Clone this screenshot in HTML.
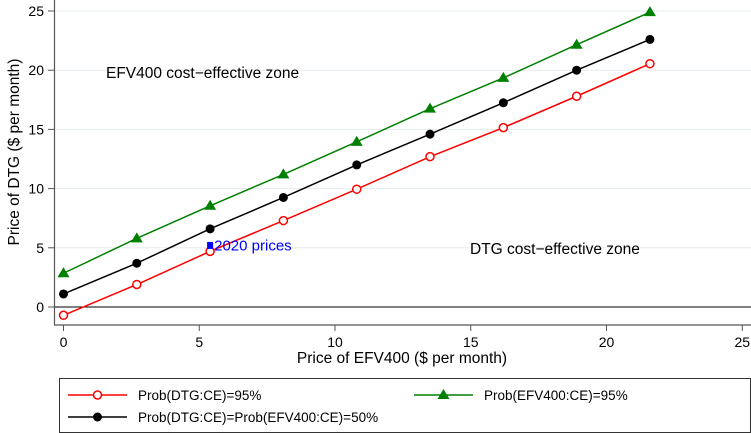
<!DOCTYPE html>
<html><head><meta charset="utf-8"><style>
body{margin:0;background:#fff}
svg{display:block;font-family:"Liberation Sans",Arial,sans-serif}
</style></head><body>
<svg id="c" width="751" height="433"></svg>
<script>
const xs=[0,2.7,5.4,8.1,10.8,13.5,16.2,18.9,21.6];
const redVals=[-0.7,1.9,4.7,7.3,9.95,12.7,15.15,17.8,20.55];
const blackVals=[1.1,3.7,6.6,9.25,12.0,14.6,17.25,20.0,22.6];
const greenVals=[2.85,5.8,8.55,11.2,13.95,16.75,19.35,22.15,24.9];
const xTicks=[0,5,10,15,20,25];
const yTicks=[0,5,10,15,20,25];
const price2020=[5.4,5.2];
const NS="http://www.w3.org/2000/svg";
const svg=document.getElementById('c');
const X=v=>63.5+v*27.15, Y=v=>307-v*11.84;
function el(t,a,p){const e=document.createElementNS(NS,t);for(const k in a)e.setAttribute(k,a[k]);(p||svg).appendChild(e);return e;}
function txt(s,a){const e=el('text',a);e.textContent=s;return e;}
// grid
yTicks.forEach(v=>{if(v>0){const g=el('line',{x1:55,x2:751,y1:Y(v),y2:Y(v),stroke:'#e3ecef','stroke-width':1});

}});
const z=el('line',{x1:55,x2:751,y1:Y(0),y2:Y(0),stroke:'#000','stroke-width':1});


// axes
const ya=el('line',{x1:54.5,x2:54.5,y1:0,y2:325,stroke:'#555','stroke-width':1.2});


const xa=el('line',{x1:54,x2:751,y1:325,y2:325,stroke:'#555','stroke-width':1.2});


yTicks.forEach(v=>{el('line',{x1:48,x2:54,y1:Y(v),y2:Y(v),stroke:'#555'});
const t=txt(v,{x:44,y:Y(v)+5,'text-anchor':'end','font-size':14});

});
xTicks.forEach(v=>{el('line',{x1:X(v),x2:X(v),y1:325,y2:331,stroke:'#555'});
const t=txt(v,{x:X(v),y:347,'text-anchor':'middle','font-size':14});

});
const xt=txt('Price of EFV400 ($ per month)',{x:402,y:363,'text-anchor':'middle','font-size':15.5});


const yt=txt('Price of DTG ($ per month)',{x:0,y:0,'text-anchor':'middle','font-size':15.5,transform:'translate(19,152) rotate(-90)'});


function series(vals,color,marker,name){
 const pl=el('polyline',{points:xs.map((x,i)=>X(x)+','+Y(vals[i])).join(' '),fill:'none',stroke:color,'stroke-width':1.5});
 
 
 xs.forEach((x,i)=>{const m=drawMarker(X(x),Y(vals[i]),color,marker);
 
 });
}
function drawMarker(cx,cy,color,marker){
 if(marker==='o')return el('circle',{cx:cx,cy:cy,r:4,fill:'#fff',stroke:color,'stroke-width':1.5});
 if(marker==='f')return el('circle',{cx:cx,cy:cy,r:4.5,fill:color});
 return el('polygon',{points:`${cx},${cy-6} ${cx-6},${cy+4} ${cx+6},${cy+4}`,fill:color});
}
series(redVals,'#ff0000','o','red-series');
series(blackVals,'#000','f','black-series');
series(greenVals,'#008000','t','green-series');
const sq=el('rect',{x:X(price2020[0])-3,y:Y(price2020[1])-3.5,width:6,height:7,fill:'#0000ff'});


const sl=txt('2020 prices',{x:X(price2020[0])+4,y:Y(price2020[1])+5,'font-size':15,fill:'#0000ff'});


const a1=txt('EFV400 cost\u2212effective zone',{x:106,y:78,'font-size':15.5});


const a2=txt('DTG cost\u2212effective zone',{x:470,y:254,'font-size':15.5});


// legend
const lg=el('g',{});


el('rect',{x:59.5,y:378.5,width:691,height:54,fill:'#fff',stroke:'#333'},lg);
function entry(x,y,color,marker,label){
 const g=el('g',{},lg);
 
 
 el('line',{x1:x,x2:x+59,y1:y,y2:y,stroke:color,'stroke-width':1.5},g);
 g.appendChild(drawMarker(x+29.5,y,color,marker));
 const t=el('text',{x:x+70,y:y+5,'font-size':13.5},g);t.textContent=label;
}
entry(68,395,'#ff0000','o','Prob(DTG:CE)=95%');
entry(414,395,'#008000','t','Prob(EFV400:CE)=95%');
entry(68,417,'#000','f','Prob(DTG:CE)=Prob(EFV400:CE)=50%');
</script>
</body></html>
